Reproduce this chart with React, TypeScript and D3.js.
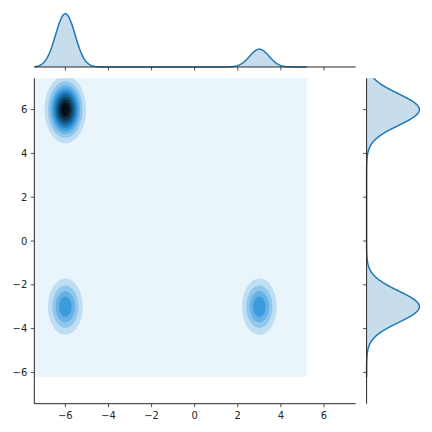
import React from "react";
import * as d3 from "d3";

// ---- data ----
const X_TICKS = [-6, -4, -2, 0, 2, 4, 6];
const Y_TICKS = [-6, -4, -2, 0, 2, 4, 6];
const X_DOMAIN = [-7.44, 7.47];
const Y_DOMAIN = [-7.43, 7.43];
// cluster centres, relative weights and spreads of the joint density
const CLUSTER_X = [-6, -6, 3];
const CLUSTER_Y = [6, -3, -3];
const CLUSTER_WEIGHT = [2, 1, 1];
const SPREAD_X = [0.45, 0.45, 0.45];
const SPREAD_Y = [0.72, 0.72, 0.72];
// support of the KDE grid
const GRID_X = [-8.2, 5.2];
const GRID_Y = [-6.2, 9.2];

const BASE = "#1f77b4";
const INK = "#262626";

// layout
const W = 432, H = 432;
const M = { left: 34.3, right: 355.7, top: 78.3, bottom: 403.7 };
const TOPM = { top: 11.0, bottom: 67.0 };
const RIGHTM = { left: 366.6, right: 422.0 };

const totalW = CLUSTER_WEIGHT.reduce((a, b) => a + b, 0);
const norm1 = (v: number, m: number, s: number) =>
  Math.exp(-0.5 * ((v - m) / s) ** 2) / (Math.sqrt(2 * Math.PI) * s);
const dens2 = (x: number, y: number) => {
  let z = 0;
  for (let i = 0; i < CLUSTER_X.length; i++) {
    z += (CLUSTER_WEIGHT[i] / totalW) * norm1(x, CLUSTER_X[i], SPREAD_X[i]) * norm1(y, CLUSTER_Y[i], SPREAD_Y[i]);
  }
  return z;
};
const densX = (x: number) => {
  let z = 0;
  for (let i = 0; i < CLUSTER_X.length; i++) z += (CLUSTER_WEIGHT[i] / totalW) * norm1(x, CLUSTER_X[i], SPREAD_X[i]);
  return z;
};
const densY = (y: number) => {
  let z = 0;
  for (let i = 0; i < CLUSTER_Y.length; i++) z += (CLUSTER_WEIGHT[i] / totalW) * norm1(y, CLUSTER_Y[i], SPREAD_Y[i]);
  return z;
};

// matplotlib-like colormap: hls lightness 1 -> 0 through base hue
function hlsToRgb(h: number, l: number, s: number) {
  if (s === 0) return [l, l, l];
  const m2 = l <= 0.5 ? l * (1 + s) : l + s - l * s;
  const m1 = 2 * l - m2;
  const v = (hue: number) => {
    hue = ((hue % 1) + 1) % 1;
    if (hue < 1 / 6) return m1 + (m2 - m1) * hue * 6;
    if (hue < 0.5) return m2;
    if (hue < 2 / 3) return m1 + (m2 - m1) * (2 / 3 - hue) * 6;
    return m1;
  };
  return [v(h + 1 / 3), v(h), v(h - 1 / 3)];
}
function rgbToHls(r: number, g: number, b: number) {
  const mx = Math.max(r, g, b), mn = Math.min(r, g, b);
  const l = (mx + mn) / 2;
  if (mx === mn) return [0, l, 0];
  const s = l <= 0.5 ? (mx - mn) / (mx + mn) : (mx - mn) / (2 - mx - mn);
  const rc = (mx - r) / (mx - mn), gc = (mx - g) / (mx - mn), bc = (mx - b) / (mx - mn);
  let h;
  if (r === mx) h = bc - gc;
  else if (g === mx) h = 2 + rc - bc;
  else h = 4 + gc - rc;
  h = ((h / 6) % 1 + 1) % 1;
  return [h, l, s];
}
const baseRgb = d3.rgb(BASE);
const [bh, , bs] = rgbToHls(baseRgb.r / 255, baseRgb.g / 255, baseRgb.b / 255);
const STOPS = d3.range(12).map((k) => hlsToRgb(bh, 1 - k / 11, bs));
function cmap(t: number) {
  t = Math.max(0, Math.min(1, t));
  const pos = t * 11;
  const i = Math.min(10, Math.floor(pos));
  const f = pos - i;
  const a = STOPS[i], b = STOPS[i + 1];
  const c = [0, 1, 2].map((k) => Math.round((a[k] + (b[k] - a[k]) * f) * 255));
  return `rgb(${c[0]},${c[1]},${c[2]})`;
}

function maxNLevels(zmin: number, zmax: number, nbins: number) {
  const raw = (zmax - zmin) / nbins;
  const scale = Math.pow(10, Math.floor(Math.log10(raw)));
  const steps = [1, 2, 2.5, 5, 10];
  for (const s0 of steps) {
    const st = s0 * scale;
    const lo = Math.floor(zmin / st + 1e-9) * st;
    const hi = Math.ceil(zmax / st - 1e-9) * st;
    if ((hi - lo) / st <= nbins + 1e-9) {
      const n = Math.round((hi - lo) / st);
      return d3.range(n + 1).map((k) => lo + k * st);
    }
  }
  return [zmin, zmax];
}

export default function App() {
  const xS = d3.scaleLinear().domain(X_DOMAIN).range([M.left, M.right]);
  const yS = d3.scaleLinear().domain(Y_DOMAIN).range([M.bottom, M.top]);

  // joint grid
  const n = 260, m = 260;
  const dx = (GRID_X[1] - GRID_X[0]) / n;
  const dy = (GRID_Y[1] - GRID_Y[0]) / m;
  const values = new Float64Array(n * m);
  let zmax = 0;
  for (let j = 0; j < m; j++) {
    for (let i = 0; i < n; i++) {
      const z = dens2(GRID_X[0] + (i + 0.5) * dx, GRID_Y[0] + (j + 0.5) * dy);
      values[j * n + i] = z;
      if (z > zmax) zmax = z;
    }
  }
  const levels = maxNLevels(0, zmax, 11);
  const lo = levels[0], hi = levels[levels.length - 1];
  const contours = d3.contours().size([n, m]).thresholds(levels.slice(0, -1))(Array.from(values));
  const proj = d3.geoTransform({
    point(x: number, y: number) {
      (this as any).stream.point(xS(GRID_X[0] + x * dx), yS(GRID_Y[0] + y * dy));
    },
  });
  const gp = d3.geoPath(proj);

  // marginals
  const xs = d3.range(0, 301).map((k) => GRID_X[0] + (k / 300) * (GRID_X[1] - GRID_X[0]));
  const ys = d3.range(0, 301).map((k) => GRID_Y[0] + (k / 300) * (GRID_Y[1] - GRID_Y[0]));
  const fx = xs.map(densX);
  const fy = ys.map(densY);
  const tyS = d3.scaleLinear().domain([0, 1.05 * (d3.max(fx) as number)]).range([TOPM.bottom, TOPM.top]);
  const rxS = d3.scaleLinear().domain([0, 1.05 * (d3.max(fy) as number)]).range([RIGHTM.left, RIGHTM.right]);

  const topArea = d3.area<number>().x((_, i) => xS(xs[i])).y0(tyS(0)).y1((d) => tyS(d))(fx) as string;
  const topLine = d3.line<number>().x((_, i) => xS(xs[i])).y((d) => tyS(d))(fx) as string;
  const rightArea = d3.area<number>().y((_, i) => yS(ys[i])).x0(rxS(0)).x1((d) => rxS(d))(fy) as string;
  const rightLine = d3.line<number>().y((_, i) => yS(ys[i])).x((d) => rxS(d))(fy) as string;

  const fmt = (v: number) => (v < 0 ? "\u2212" + Math.abs(v) : String(v));
  const font = { fontFamily: "'DejaVu Sans', sans-serif", fontSize: 10, fill: INK };

  return (
    <svg width={W} height={H} style={{ position: "absolute", left: 0, top: 0, background: "#fff" }}>
      <defs>
        <clipPath id="clipMain">
          <rect x={M.left} y={M.top} width={M.right - M.left} height={M.bottom - M.top} />
        </clipPath>
        <clipPath id="clipTop">
          <rect x={M.left} y={TOPM.top} width={M.right - M.left} height={TOPM.bottom - TOPM.top + 2} />
        </clipPath>
        <clipPath id="clipRight">
          <rect x={RIGHTM.left - 2} y={M.top} width={RIGHTM.right - RIGHTM.left + 2} height={M.bottom - M.top} />
        </clipPath>
      </defs>

      {/* joint KDE */}
      <g clipPath="url(#clipMain)">
        {contours.map((c, i) => (
          <path
            key={i}
            d={gp(c as any) || ""}
            fill={cmap(((levels[i] + levels[i + 1]) / 2 - lo) / (hi - lo))}
            stroke="none"
          />
        ))}
      </g>

      {/* top marginal */}
      <g clipPath="url(#clipTop)">
        <path d={topArea} fill={BASE} fillOpacity={0.25} />
        <path d={topLine} fill="none" stroke={BASE} strokeWidth={1.5} />
      </g>
      {/* right marginal */}
      <g clipPath="url(#clipRight)">
        <path d={rightArea} fill={BASE} fillOpacity={0.25} />
        <path d={rightLine} fill="none" stroke={BASE} strokeWidth={1.5} />
      </g>

      {/* main spines */}
      <line x1={M.left} x2={M.left} y1={M.top} y2={M.bottom} stroke={INK} strokeWidth={1} />
      <line x1={M.left} x2={M.right} y1={M.bottom} y2={M.bottom} stroke={INK} strokeWidth={1} />
      {X_TICKS.map((t) => (
        <g key={"x" + t}>
          <line x1={xS(t)} x2={xS(t)} y1={M.bottom} y2={M.bottom + 3.5} stroke={INK} strokeWidth={0.8} />
          <text x={xS(t)} y={M.bottom + 14.8} textAnchor="middle" {...font}>{fmt(t)}</text>
          <line x1={xS(t)} x2={xS(t)} y1={TOPM.bottom} y2={TOPM.bottom + 3.5} stroke={INK} strokeWidth={0.8} />
        </g>
      ))}
      {Y_TICKS.map((t) => (
        <g key={"y" + t}>
          <line x1={M.left - 3.5} x2={M.left} y1={yS(t)} y2={yS(t)} stroke={INK} strokeWidth={0.8} />
          <text x={M.left - 7} y={yS(t)} dy="0.36em" textAnchor="end" {...font}>{fmt(t)}</text>
          <line x1={RIGHTM.left - 3.5} x2={RIGHTM.left} y1={yS(t)} y2={yS(t)} stroke={INK} strokeWidth={0.8} />
        </g>
      ))}
      {/* marginal spines */}
      <line x1={M.left} x2={M.right} y1={TOPM.bottom} y2={TOPM.bottom} stroke={INK} strokeWidth={1} />
      <line x1={RIGHTM.left} x2={RIGHTM.left} y1={M.top} y2={M.bottom} stroke={INK} strokeWidth={1} />
    </svg>
  );
}
